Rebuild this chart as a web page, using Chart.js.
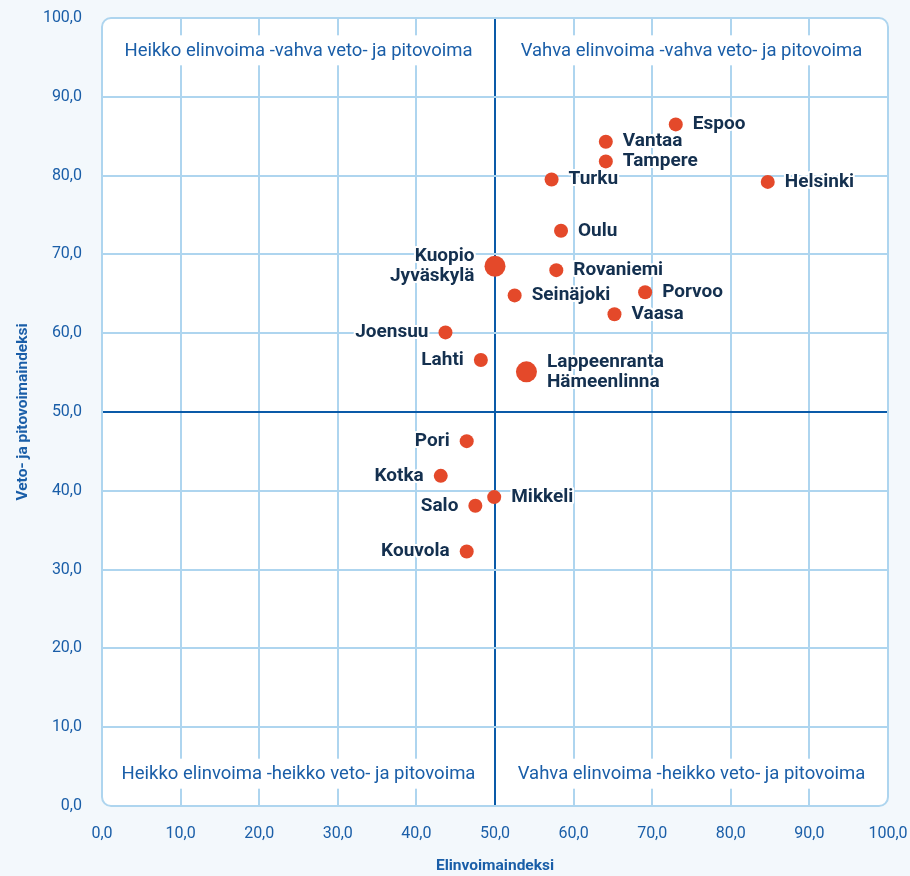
<!DOCTYPE html>
<html>
<head>
<meta charset="utf-8">
<script src="https://cdn.jsdelivr.net/npm/chart.js@4"></script>
<style>
  html, body { margin: 0; padding: 0; background: #f3f8fc; }
  #wrap { width: 910px; height: 876px; }
</style>
</head>
<body>
<div id="wrap"><canvas id="MyChart" width="910" height="876"></canvas></div>
<script>
// city names (two-name labels = two cities sharing one point)
const cities = [
  ['Espoo'], ['Vantaa'], ['Tampere'], ['Turku'], ['Helsinki'], ['Oulu'],
  ['Kuopio', 'Jyväskylä'], ['Rovaniemi'], ['Seinäjoki'], ['Porvoo'], ['Vaasa'],
  ['Joensuu'], ['Lahti'], ['Lappeenranta', 'Hämeenlinna'],
  ['Pori'], ['Kotka'], ['Mikkeli'], ['Salo'], ['Kouvola']
]
const elinvoima = [73.0, 64.1, 64.1, 57.2, 84.7, 58.4, 50.0, 57.8, 52.5, 69.1, 65.2,
                   43.7, 48.2, 54.0, 46.4, 43.1, 49.9, 47.5, 46.4]
const vetovoima = [86.5, 84.3, 81.8, 79.5, 79.2, 73.0, 68.5, 68.0, 64.8, 65.2, 62.4,
                   60.1, 56.6, 55.1, 46.3, 41.9, 39.2, 38.1, 32.3]
const ticks = [0, 10, 20, 30, 40, 50, 60, 70, 80, 90, 100]
const quadrants = [
  'Heikko elinvoima -vahva veto- ja pitovoima',
  'Vahva elinvoima -vahva veto- ja pitovoima',
  'Heikko elinvoima -heikko veto- ja pitovoima',
  'Vahva elinvoima -heikko veto- ja pitovoima'
]
const leftLabels = ['Kuopio', 'Joensuu', 'Lahti', 'Pori', 'Kotka', 'Salo', 'Kouvola']

const FONT = 'Roboto, "DejaVu Sans", sans-serif'
const BLUE = '#1a5ea8'
const GRID = '#aed5ef'

const fmt = (v) => Number(v).toFixed(1).replace('.', ',')
const gridColor = (c) => c.tick.value === 50 ? '#0a5aa8' : (c.tick.value === 0 || c.tick.value === 100 ? 'rgba(0,0,0,0)' : GRID)

const background = {
  id: 'background',
  beforeDraw(chart) {
    const ctx = chart.ctx, a = chart.chartArea
    ctx.save()
    ctx.fillStyle = '#f3f8fc'
    ctx.fillRect(0, 0, chart.width, chart.height)
    ctx.beginPath()
    ctx.roundRect(a.left, a.top, a.right - a.left, a.bottom - a.top, 9)
    ctx.fillStyle = '#ffffff'
    ctx.fill()
    ctx.restore()
  },
  beforeDatasetsDraw(chart) {
    const ctx = chart.ctx, a = chart.chartArea
    const x = chart.scales.x, y = chart.scales.y
    ctx.save()
    // rounded border
    ctx.beginPath()
    ctx.roundRect(a.left, a.top, a.right - a.left, a.bottom - a.top, 9)
    ctx.strokeStyle = GRID
    ctx.lineWidth = 2
    ctx.stroke()
    // quadrant captions
    ctx.font = '18.5px ' + FONT
    ctx.textAlign = 'center'
    ctx.textBaseline = 'middle'
    const spots = [
      [(a.left + x.getPixelForValue(50)) / 2, y.getPixelForValue(95.9)],
      [(x.getPixelForValue(50) + a.right) / 2, y.getPixelForValue(95.9)],
      [(a.left + x.getPixelForValue(50)) / 2, y.getPixelForValue(4.1)],
      [(x.getPixelForValue(50) + a.right) / 2, y.getPixelForValue(4.1)]
    ]
    quadrants.forEach((q, i) => {
      const w = ctx.measureText(q).width + 12
      ctx.fillStyle = '#ffffff'
      ctx.fillRect(spots[i][0] - w / 2, spots[i][1] - 15, w, 30)
      ctx.fillStyle = BLUE
      ctx.fillText(q, spots[i][0], spots[i][1] + 1)
    })
    ctx.restore()
  },
  afterDatasetsDraw(chart) {
    const ctx = chart.ctx
    const meta = chart.getDatasetMeta(0)
    ctx.save()
    ctx.font = 'bold 19px ' + FONT
    ctx.textBaseline = 'middle'
    ctx.lineJoin = 'round'
    meta.data.forEach((pt, i) => {
      const lines = cities[i]
      const left = leftLabels.includes(lines[0])
      const r = lines.length > 1 ? 10.5 : 7
      const gap = r + 10
      ctx.textAlign = left ? 'right' : 'left'
      const tx = left ? pt.x - gap : pt.x + gap
      lines.forEach((t, j) => {
        const ty = pt.y + (j - (lines.length - 1) / 2) * 20
        ctx.strokeStyle = '#ffffff'
        ctx.lineWidth = 4
        ctx.strokeText(t, tx, ty)
        ctx.fillStyle = '#14304f'
        ctx.fillText(t, tx, ty)
      })
    })
    ctx.restore()
  }
}

const ctx = document.getElementById('MyChart').getContext('2d')
new Chart(ctx, {
  type: 'scatter',
  data: {
    datasets: [{
      data: elinvoima.map((v, i) => ({ x: v, y: vetovoima[i] })),
      backgroundColor: '#e4492a',
      borderWidth: 0,
      pointRadius: cities.map((c) => c.length > 1 ? 10.5 : 7),
      pointHoverRadius: cities.map((c) => c.length > 1 ? 10.5 : 7)
    }]
  },
  plugins: [background],
  options: {
    responsive: false,
    animation: false,
    layout: { padding: { top: 18, right: 22, left: 0, bottom: 0 } },
    plugins: { legend: { display: false }, tooltip: { enabled: false } },
    scales: {
      x: {
        min: 0, max: 100,
        afterFit: (s) => { s.height = 70; s.paddingLeft = 0; s.paddingRight = 0 },
        afterBuildTicks: (s) => { s.ticks = ticks.map((v) => ({ value: v })) },
        border: { display: false },
        grid: { drawTicks: false, color: gridColor, lineWidth: 2 },
        ticks: { padding: 18, color: BLUE, font: { family: FONT, size: 16 }, callback: fmt },
        title: {
          display: true, text: 'Elinvoimaindeksi', color: BLUE,
          font: { family: FONT, size: 15.5, weight: 'bold' }, padding: { top: 0, bottom: 1 }
        }
      },
      y: {
        min: 0, max: 100,
        afterFit: (s) => { s.width = 102; s.paddingTop = 0; s.paddingBottom = 0 },
        afterBuildTicks: (s) => { s.ticks = ticks.map((v) => ({ value: v })) },
        border: { display: false },
        grid: { drawTicks: false, color: gridColor, lineWidth: 2 },
        ticks: { padding: 20, color: BLUE, font: { family: FONT, size: 16 }, callback: fmt },
        title: {
          display: true, text: 'Veto- ja pitovoimaindeksi', color: BLUE,
          font: { family: FONT, size: 15.5, weight: 'bold' }, padding: { top: 14, bottom: 0 }
        }
      }
    }
  }
})
</script>
</body>
</html>
